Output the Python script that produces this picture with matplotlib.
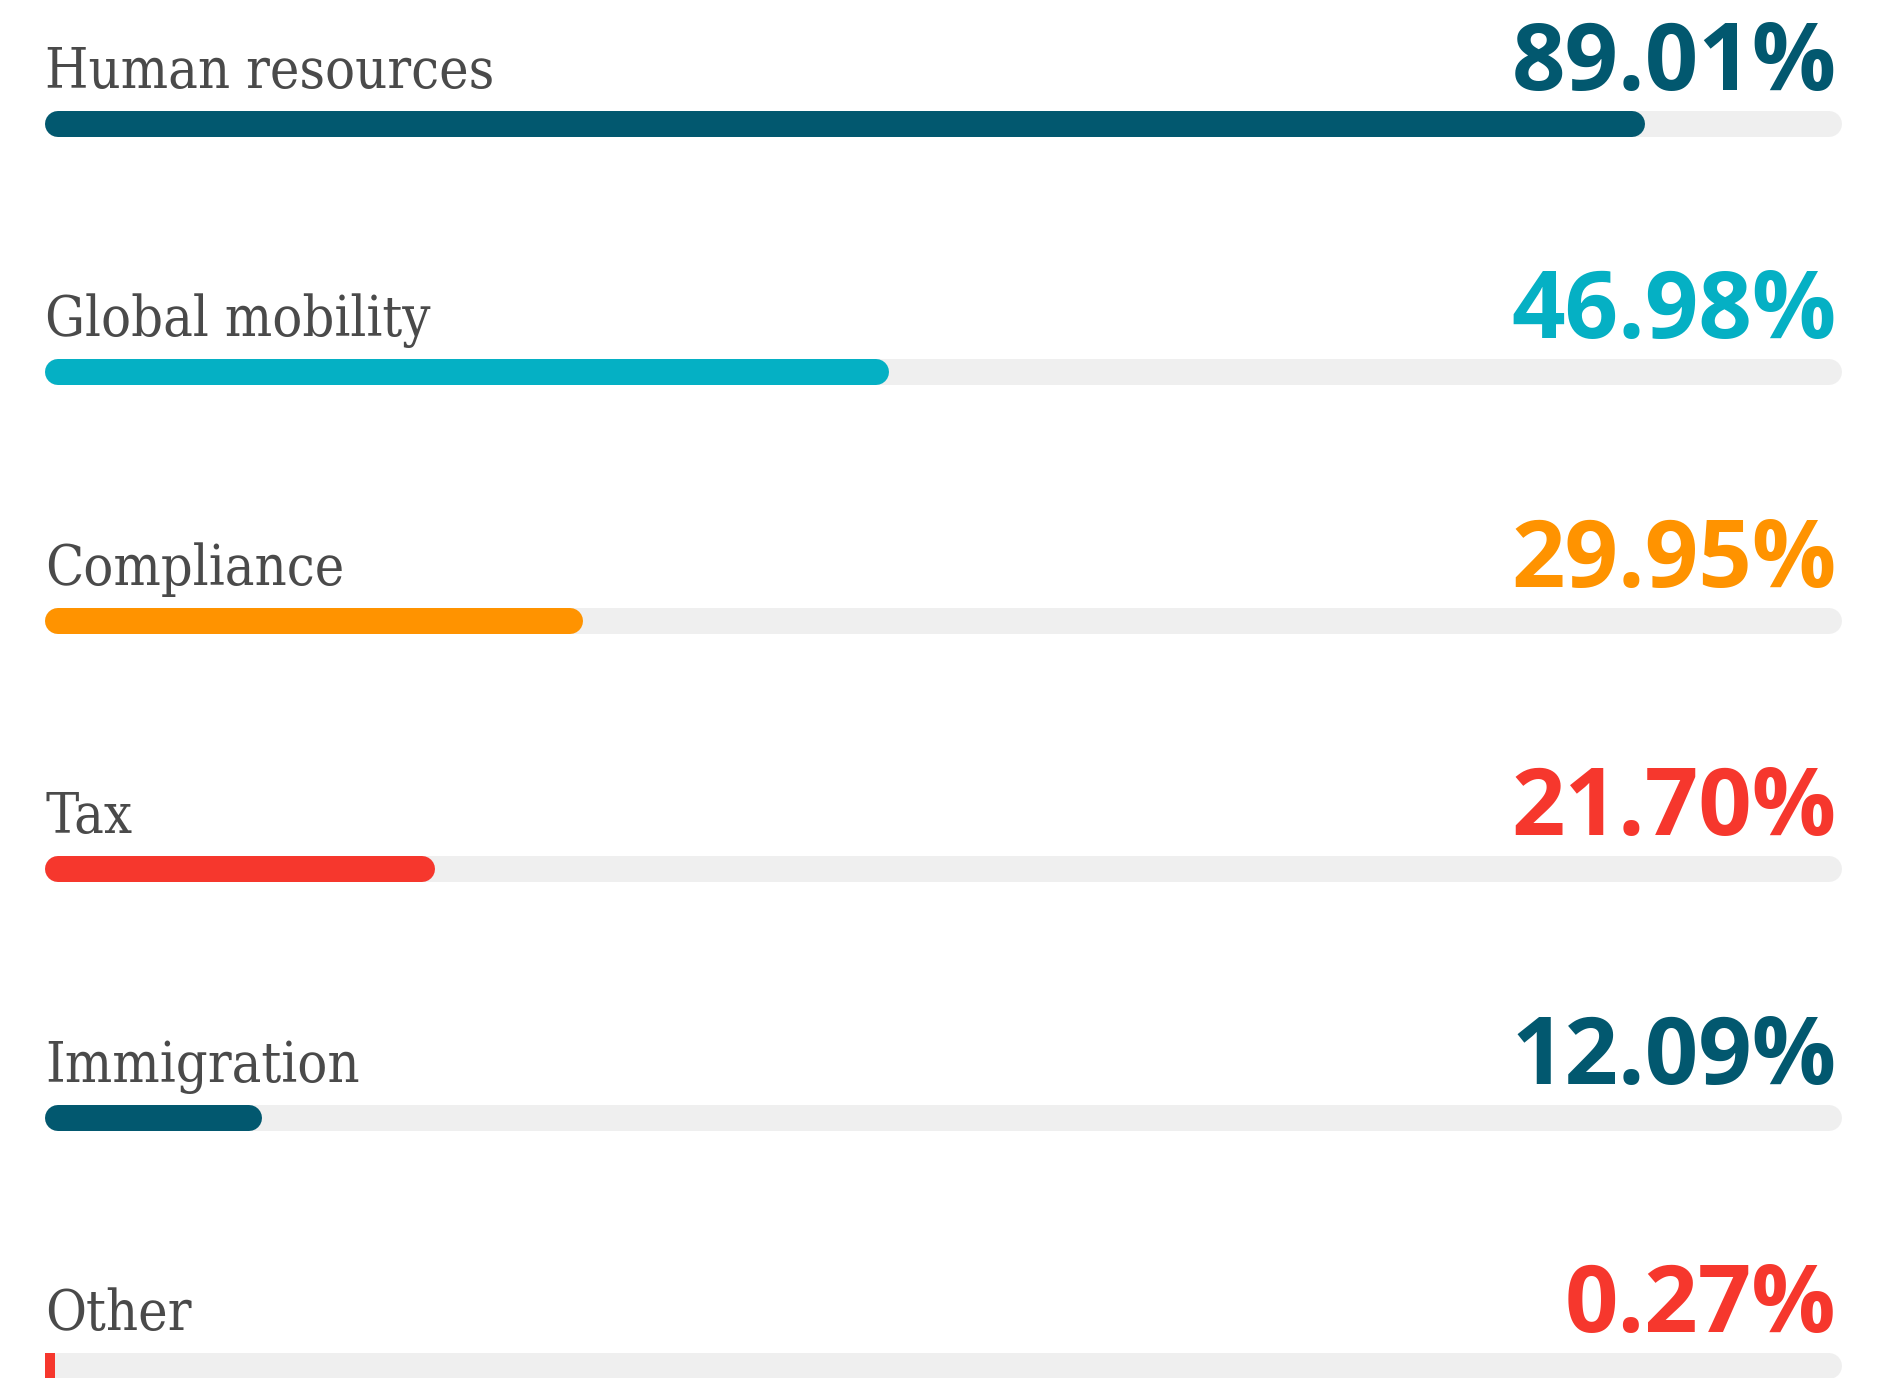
import matplotlib
matplotlib.use("Agg")
import matplotlib.pyplot as plt

categories = ["Human resources", "Global mobility", "Compliance", "Tax", "Immigration", "Other"]
values = [89.01, 46.98, 29.95, 21.70, 12.09, 0.27]
value_labels = ["89.01%", "46.98%", "29.95%", "21.70%", "12.09%", "0.27%"]
colors = ["#02586f", "#05b0c4", "#ff9300", "#f6372d", "#02586f", "#f6372d"]

W, H, DPI = 1891, 1378, 100
TRACK_L, TRACK_W = 45, 1797          # px
ROW0, ROW_STEP, BAR_H = 124, 248.4, 26

fig = plt.figure(figsize=(W / DPI, H / DPI), dpi=DPI)
ax = fig.add_axes([TRACK_L / W, 0, TRACK_W / W, 1])
ax.set_xlim(0, 100)
ax.set_ylim((H - ROW0) / ROW_STEP, -ROW0 / ROW_STEP)
ax.axis("off")

lw = BAR_H * 72 / DPI
cap = (BAR_H / 2) / TRACK_W * 100      # half cap in data units
lab_off = 36 / ROW_STEP
val_off = 34 / ROW_STEP

for i, (cat, v, vl, c) in enumerate(zip(categories, values, value_labels, colors)):
    ax.plot([cap, 100 - cap], [i, i], color="#efefef", lw=lw, solid_capstyle="round", zorder=1)
    if v / 100 * TRACK_W > BAR_H:
        ax.plot([cap, v - cap], [i, i], color=c, lw=lw, solid_capstyle="round", zorder=2)
    else:  # too short for round caps: plain sliver
        ax.barh(i, max(v, 10 / TRACK_W * 100), height=BAR_H / ROW_STEP, left=0, color=c, zorder=2)
    ax.text(0, i - lab_off, cat, family="DejaVu Serif", fontstretch="condensed", fontsize=40,
            color="#4a4a4a", ha="left", va="baseline")
    ax.text(99.7, i - val_off, vl, family="Open Sans", fontweight="bold", fontsize=67.5,
            color=c, ha="right", va="baseline")

fig.savefig("out.png", dpi=DPI, facecolor="white")
